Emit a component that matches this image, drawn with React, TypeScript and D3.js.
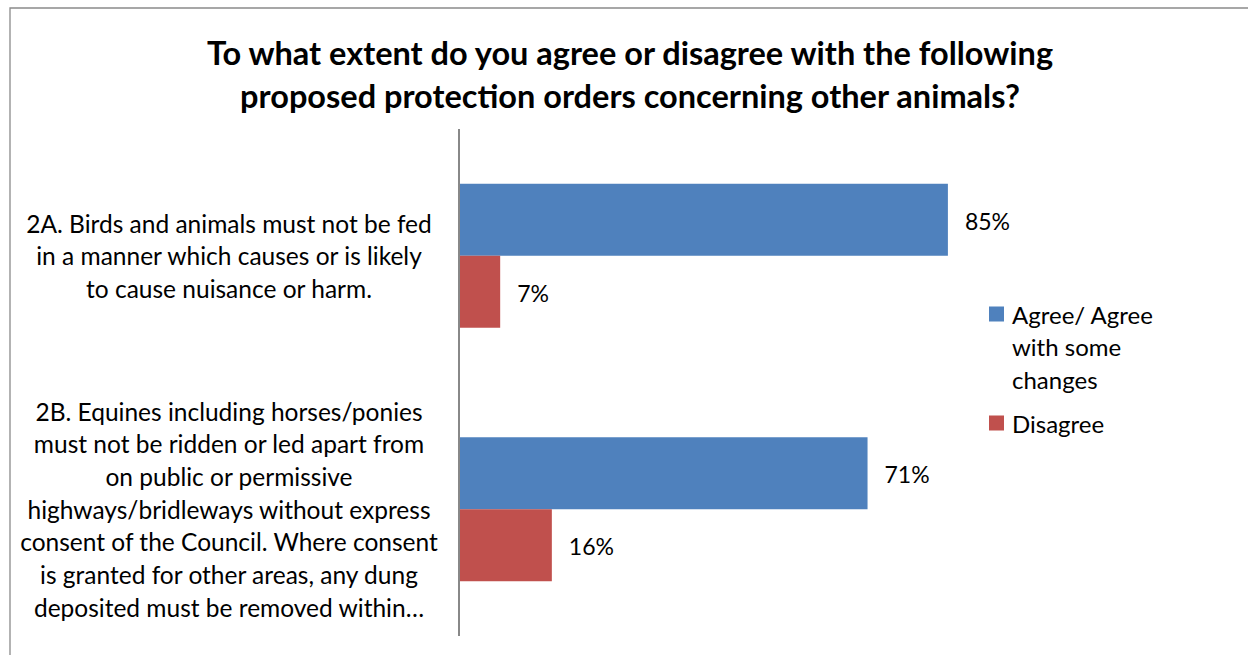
import React from "react";
import * as d3 from "d3";

const categories = ["2A", "2B"];
const categoryLabels: string[][] = [
  [
    "2A. Birds and animals must not be fed",
    "in a manner which causes or is likely",
    "to cause nuisance or harm.",
  ],
  [
    "2B. Equines including horses/ponies",
    "must not be ridden or led apart from",
    "on public or permissive",
    "highways/bridleways without express",
    "consent of the Council. Where consent",
    "is granted for other areas, any dung",
    "deposited must be removed within…",
  ],
];
const seriesNames = ["Agree/ Agree with some changes", "Disagree"];
const legendLines: string[][] = [["Agree/ Agree", "with some", "changes"], ["Disagree"]];
const agreeValues = [0.85, 0.71];
const disagreeValues = [0.07, 0.16];
const titleLines = [
  "To what extent do you agree or disagree with the following",
  "proposed protection orders concerning other animals?",
];

const W = 1248;
const H = 655;
const colors = ["#4F81BD", "#C0504D"];
const font = "Lato, 'Open Sans', sans-serif";

export default function App() {
  const y = d3
    .scaleBand<string>()
    .domain(categories)
    .range([129, 636])
    .paddingInner(0.432)
    .paddingOuter(0.216);
  const ySub = d3.scaleBand<string>().domain(seriesNames).range([0, y.bandwidth()]);
  const x = d3.scaleLinear().domain([0, 1]).range([460, 460 + 574]);
  const fmt = d3.format(".0%");
  const values = [agreeValues, disagreeValues];
  const lineH = 32.7;

  return (
    <svg
      width={W}
      height={H}
      style={{ position: "fixed", left: 0, top: 0, background: "#fff" }}
      fontFamily={font}
    >
      <rect x={0} y={0} width={W} height={H} fill="#fff" />
      <path d={`M10,${H + 2}V8H${W + 2}`} fill="none" stroke="#8a8a8a" strokeWidth={1.3} />
      {titleLines.map((t, i) => (
        <text
          key={i}
          x={630}
          y={52 + i * 43}
          textAnchor="middle"
          dominantBaseline="central"
          fontWeight="bold"
          fontSize={32.5}
          fill="#000"
        >
          {t}
        </text>
      ))}
      {categories.map((c, ci) => {
        const center = (y(c) as number) + y.bandwidth() / 2;
        const lines = categoryLabels[ci];
        return (
          <g key={c}>
            {lines.map((l, li) => (
              <text
                key={li}
                x={229}
                y={center + (li - (lines.length - 1) / 2) * lineH}
                textAnchor="middle"
                dominantBaseline="central"
                fontSize={24.5}
                fill="#000"
              >
                {l}
              </text>
            ))}
            {seriesNames.map((s, si) => {
              const v = values[si][ci];
              const by = (y(c) as number) + (ySub(s) as number);
              return (
                <g key={s}>
                  <rect
                    x={x(0)}
                    y={by}
                    width={x(v) - x(0)}
                    height={ySub.bandwidth()}
                    fill={colors[si]}
                  />
                  <text
                    x={x(v) + 17}
                    y={by + ySub.bandwidth() / 2 + 1}
                    dominantBaseline="central"
                    fontSize={23}
                    fill="#000"
                  >
                    {fmt(v)}
                  </text>
                </g>
              );
            })}
          </g>
        );
      })}
      <line x1={459} x2={459} y1={129} y2={636} stroke="#888" strokeWidth={2} />
      {seriesNames.map((s, si) => {
        const top = si === 0 ? 314 : 423;
        return (
          <g key={s}>
            <rect x={989} y={top - 7.5} width={15} height={15} fill={colors[si]} />
            {legendLines[si].map((l, li) => (
              <text
                key={li}
                x={1012}
                y={top + li * 32.5}
                dominantBaseline="central"
                fontSize={24}
                fill="#000"
              >
                {l}
              </text>
            ))}
          </g>
        );
      })}
    </svg>
  );
}
